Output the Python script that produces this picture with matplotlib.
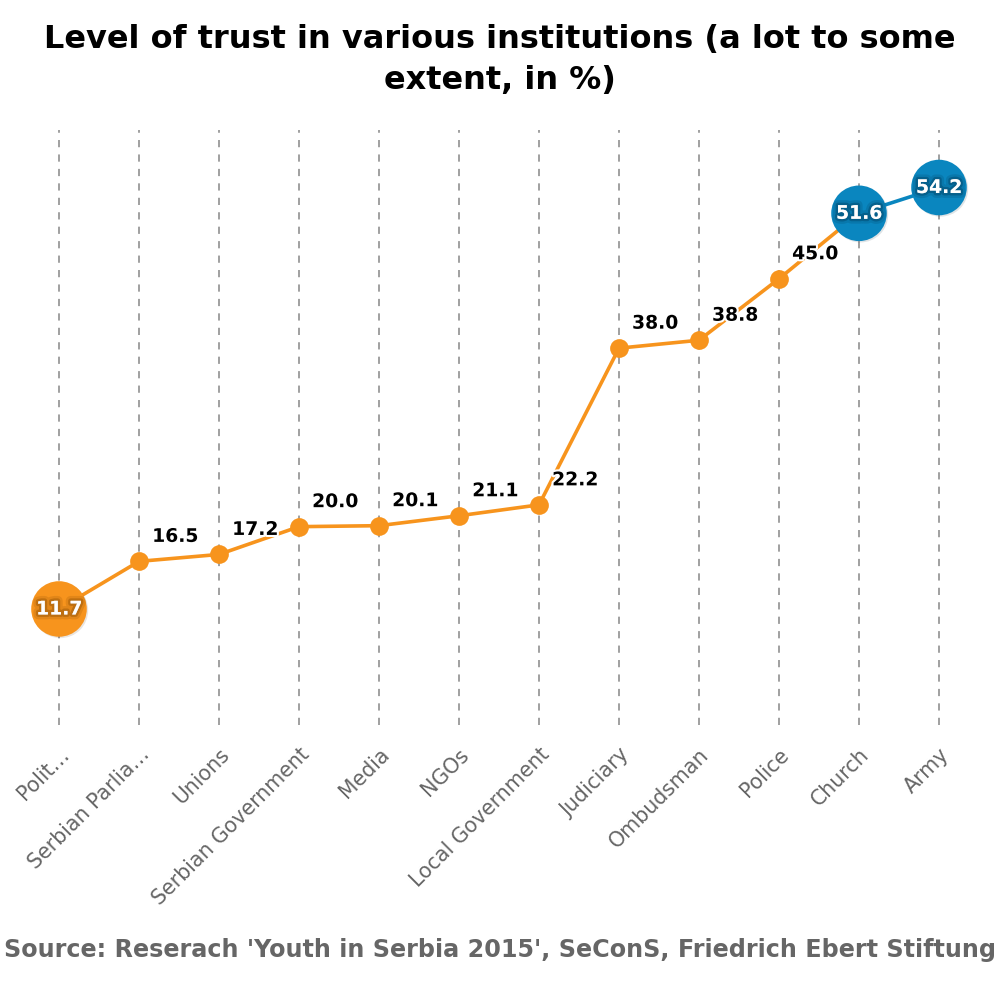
import matplotlib.pyplot as plt
import matplotlib.patheffects as pe

categories = ['Polit…', 'Serbian Parlia…', 'Unions', 'Serbian Government', 'Media', 'NGOs',
              'Local Government', 'Judiciary', 'Ombudsman', 'Police', 'Church', 'Army']
values = [11.7, 16.5, 17.2, 20.0, 20.1, 21.1, 22.2, 38.0, 38.8, 45.0, 51.6, 54.2]
# which points are drawn as big bubbles (lowest and two highest)
big = [True, False, False, False, False, False, False, False, False, False, True, True]
point_colors = ['orange'] * 10 + ['blue'] * 2

ORANGE = '#F7941D'
BLUE = '#0A86BF'
palette = {'orange': ORANGE, 'blue': BLUE}
dark = {'orange': '#6b3a00', 'blue': '#002a45'}

fig = plt.figure(figsize=(10, 10), dpi=100)
ax = fig.add_axes([0.019, 0.275, 0.96, 0.595])

x = list(range(len(values)))

# line segments take the colour of the point they start from
for i in range(len(values) - 1):
    ax.plot(x[i:i + 2], values[i:i + 2], color=palette[point_colors[i]], lw=2.6, zorder=2,
            solid_capstyle='round')

for i, v in enumerate(values):
    c = palette[point_colors[i]]
    if big[i]:
        ax.plot(i, v, 'o', ms=40, color=c, mec='none', zorder=4,
                path_effects=[pe.SimplePatchShadow(offset=(1, -1), alpha=0.12), pe.Normal()])
        ax.text(i, v, f'{v:.1f}', color='white', fontsize=13.5, fontweight='bold',
                ha='center', va='center', zorder=5,
                path_effects=[pe.withStroke(linewidth=7, foreground=dark[point_colors[i]], alpha=0.15),
                              pe.withStroke(linewidth=3.5, foreground=dark[point_colors[i]], alpha=0.3)])
    else:
        ax.plot(i, v, 'o', ms=13.5, color=c, mec='none', zorder=4)
        ax.annotate(f'{v:.1f}', (i, v), xytext=(26, 18), textcoords='offset points',
                    ha='center', va='center', fontsize=13.5, fontweight='bold', color='black', zorder=5,
                    path_effects=[pe.withStroke(linewidth=3, foreground='white')])

ax.set_xlim(-0.5, len(values) - 0.5)
ax.set_ylim(0, 60)
ax.set_xticks(x)
ax.set_xticklabels(categories, rotation=45, ha='right', va='top', rotation_mode='anchor',
                   fontsize=14.8, color='#666666')
ax.tick_params(axis='x', length=0, pad=14)
ax.set_yticks([])
ax.grid(axis='x', linestyle=(0, (4, 4)), color='#999999', lw=1.3)
for s in ax.spines.values():
    s.set_visible(False)

fig.text(0.5, 0.976, 'Level of trust in various institutions (a lot to some\nextent, in %)',
         ha='center', va='top', fontsize=23, fontweight='bold', linespacing=1.4)
fig.text(0.5, 0.05, "Source: Reserach 'Youth in Serbia 2015', SeConS, Friedrich Ebert Stiftung",
         ha='center', va='center', fontsize=17.2, fontweight='bold', color='#666666')

fig.savefig('out.png', dpi=100)
